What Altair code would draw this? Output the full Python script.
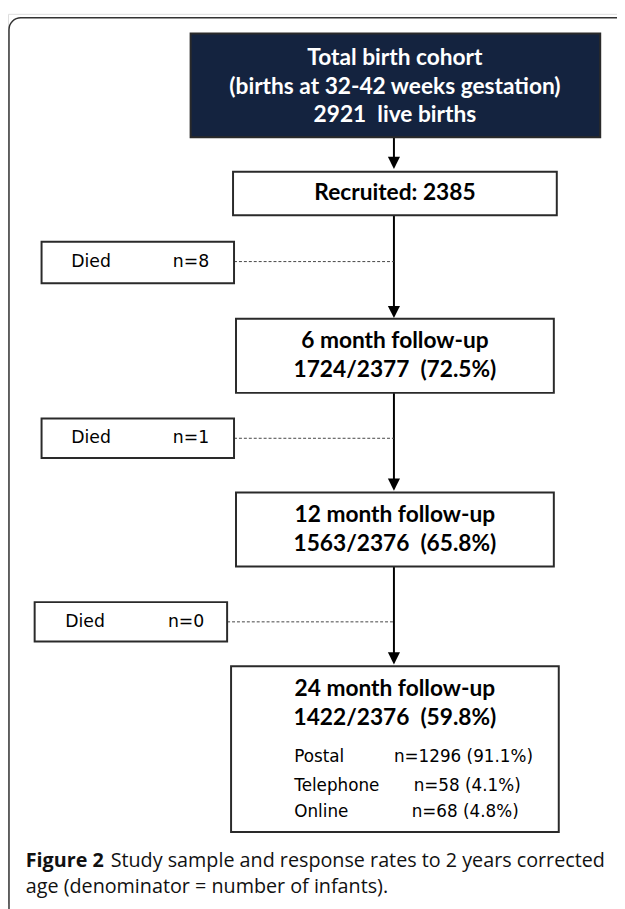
import altair as alt
import pandas as pd

NB = "\u00a0"

# ---------------- content ----------------
box_names = ["cohort", "recruited", "m6", "m12", "m24", "died1", "died2", "died3"]
box_fill = ["#14233f", "white", "white", "white", "white", "white", "white", "white"]

cohort_lines = ["Total birth cohort", "(births at 32-42 weeks gestation)", "2921" + NB + " live births"]
recruited_lines = ["Recruited: 2385"]
m6_lines = ["6 month follow-up", "1724/2377" + NB + NB + "(72.5%)"]
m12_lines = ["12 month follow-up", "1563/2376" + NB + NB + "(65.8%)"]
m24_lines = ["24 month follow-up", "1422/2376" + NB + NB + "(59.8%)"]
mode_labels = ["Postal", "Telephone", "Online"]
mode_counts = ["n=1296 (91.1%)", "n=58 (4.1%)", "n=68 (4.8%)"]
died_labels = ["Died", "Died", "Died"]
died_counts = ["n=8", "n=1", "n=0"]
caption_bold = "Figure 2"
caption_line1 = "Study sample and response rates to 2 years corrected"
caption_line2 = "age (denominator = number of infants)."

# ---------------- layout (pixel coordinates of the figure) ----------------
box_x1 = [193, 236, 239, 239, 234, 42, 42, 35]
box_x2 = [608, 564, 561, 561, 566, 237, 237, 230]
box_y1 = [28, 168, 317, 493, 669, 239, 418, 604]
box_y2 = [133, 212, 392, 568, 837, 281, 458, 644]

spine_x = 399
arrow_from = [133, 212, 392, 568]
arrow_tip = [165, 316, 491, 667]
dash_y = [259, 438, 624]
dash_x1 = [237, 237, 230]

BOLD_FONT = "Lato"
SMALL_FONT = "DejaVu Sans"
CAP_FONT = "Open Sans"

boxes = pd.DataFrame({"name": box_names, "x1": box_x1, "x2": box_x2,
                      "y1": box_y1, "y2": box_y2, "fill": box_fill})

texts = []
def add(t, x, y, align="center", weight="bold", size=23, color="black", font=BOLD_FONT):
    texts.append(dict(t=t, x=x, y=y, align=align, weight=weight, size=size,
                      color=color, font=font))

for t, y in zip(cohort_lines, [53, 82, 111]):
    add(t, 400, y, color="white")
add(recruited_lines[0], 400, 190)
for t, y in zip(m6_lines, [340, 369]):
    add(t, 400, y)
for t, y in zip(m12_lines, [516, 545]):
    add(t, 400, y)
for t, y in zip(m24_lines, [692, 722]):
    add(t, 400, y)
for lab, y in zip(mode_labels, [761, 790, 817]):
    add(lab, 298, y, align="left", weight="normal", size=17, font=SMALL_FONT)
for cnt, y, xl in zip(mode_counts, [761, 790, 817], [399, 419, 417]):
    add(cnt, xl, y, align="left", weight="normal", size=17, font=SMALL_FONT)
for lab, cnt, y, xl, xc in zip(died_labels, died_counts, dash_y, [72, 72, 66], [175, 175, 170]):
    add(lab, xl, y, align="left", weight="normal", size=17.5, font=SMALL_FONT)
    add(cnt, xc, y, align="left", weight="normal", size=17.5, font=SMALL_FONT)

text_df = pd.DataFrame(texts)

caption_df = pd.DataFrame([
    dict(t=caption_bold, x=26, y=866, weight="bold"),
    dict(t=caption_line1, x=112, y=866, weight="normal"),
    dict(t=caption_line2, x=26, y=893, weight="normal"),
])

arrows = pd.DataFrame({"x": [spine_x] * 4, "y1": arrow_from, "y2": [t - 8 for t in arrow_tip]})
heads = pd.DataFrame({"x": [spine_x] * 4, "y": [t - 6 for t in arrow_tip]})
dashes = pd.DataFrame({"x1": dash_x1, "x2": [spine_x] * 3, "y": dash_y})
frame = pd.DataFrame({"x1": [9], "x2": [660], "y1": [12], "y2": [960]})

xs = alt.Scale(domain=[8, 625], nice=False, zero=False)
ys = alt.Scale(domain=[8, 909], nice=False, zero=False, reverse=True)
X = lambda f: alt.X(f, type="quantitative", scale=xs, axis=None)
Y = lambda f: alt.Y(f, type="quantitative", scale=ys, axis=None)

frame_l = alt.Chart(frame).mark_rect(fill="white", stroke="#333333", strokeWidth=1.5,
                                     cornerRadius=12).encode(
    x=X("x1"), x2="x2", y=Y("y1"), y2="y2")

arrow_l = alt.Chart(arrows).mark_rule(color="black", strokeWidth=2).encode(
    x=X("x"), y=Y("y1"), y2="y2")

head_l = alt.Chart(heads).mark_point(shape="M-1,-1L1,-1L0,1Z", filled=True, fill="black",
                                     opacity=1, size=150, strokeWidth=0).encode(
    x=X("x"), y=Y("y"))

dash_l = alt.Chart(dashes).mark_rule(color="#444444", strokeWidth=1, strokeDash=[3, 2]).encode(
    x=X("x1"), x2="x2", y=Y("y"))

box_l = alt.Chart(boxes).mark_rect(stroke="#2a2a2a", strokeWidth=2).encode(
    x=X("x1"), x2="x2", y=Y("y1"), y2="y2",
    fill=alt.Fill("fill:N", scale=None))

text_layers = []
for (al, wt, sz, col, fn), g in text_df.groupby(["align", "weight", "size", "color", "font"]):
    text_layers.append(
        alt.Chart(g).mark_text(align=al, baseline="middle", font=fn, fontWeight=wt,
                               fontSize=sz, color=col).encode(
            x=X("x"), y=Y("y"), text="t:N"))

cap_layers = []
for wt, g in caption_df.groupby("weight"):
    cap_layers.append(
        alt.Chart(g).mark_text(align="left", baseline="middle", font=CAP_FONT, fontWeight=wt,
                               fontSize=20, color="#111111").encode(
            x=X("x"), y=Y("y"), text="t:N"))

chart = alt.layer(frame_l, arrow_l, head_l, dash_l, box_l, *text_layers, *cap_layers).properties(
    width=617, height=901, padding=0,
    autosize=alt.AutoSizeParams(type="none"),
).configure_view(stroke=None).configure(background="white")

chart.save("out.html", embed_options={"renderer": "svg", "actions": False})
